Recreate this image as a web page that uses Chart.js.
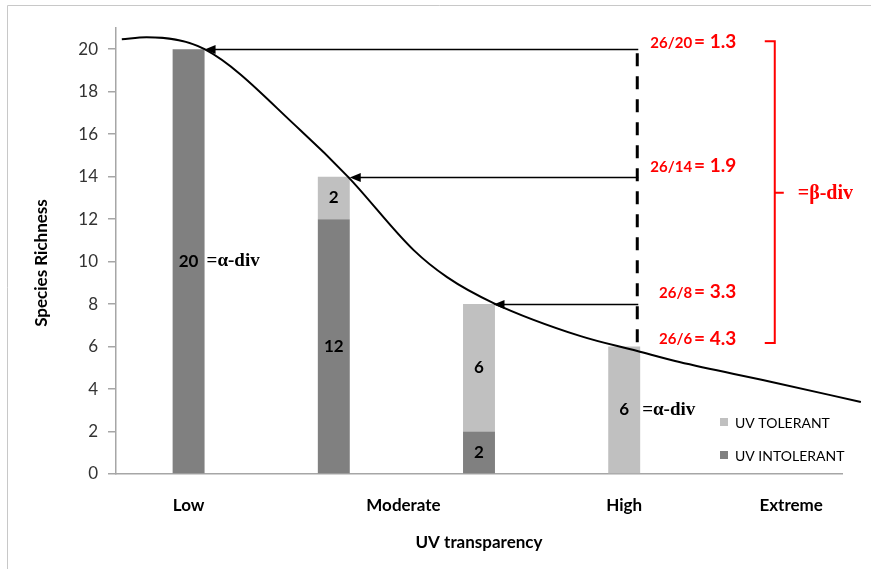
<!DOCTYPE html>
<html>
<head>
<meta charset="utf-8">
<script src="https://cdn.jsdelivr.net/npm/chart.js@4.4.1/dist/chart.umd.min.js"></script>
<style>
  body { margin: 0; background: #fff; }
</style>
</head>
<body>
<canvas id="canvas" width="871" height="569"></canvas>
<script>
/* data */
// 5 slots on the x axis, slot 4 stays empty
const slots = [0, 1, 2, 3, 4];
const uvIntolerant = [20, 12, 2, 0, 0];
const uvTolerant = [0, 2, 6, 6, 0];
const alphaNote = ['=α-div', '', '', '=α-div', ''];

const xTickLabels = ['Low', 'Moderate', 'High', 'Extreme'];
const xTickPos = [0, 1.48, 3, 4.15];

// curve (x in slot units)
const curveX = [-0.46, -0.29, 0.11, 0.77, 1.10, 1.55, 1.78, 2.10, 2.70, 3.09, 3.38, 4.00, 4.63];
const curveY = [20.47, 20.56, 20.0, 16.19, 13.98, 10.54, 9.27, 8.05, 6.49, 5.79, 5.27, 4.36, 3.39];

// beta diversity
const gammaTotal = 26;
const alphaValues = [20, 14, 8, 6];
const betaValues = ['1.3', '1.9', '3.3', '4.3'];
const arrowTipX = [0.11, 1.11, 2.10];
const dashX = 3.09;

const SANS = 'Lato, "Noto Sans", sans-serif';
const SERIF = '"Liberation Serif", "DejaVu Serif", serif';
const AXIS_GREY = '#a6a6a6';

/* drawing of the annotations */
const extras = {
    id: 'extras',
    beforeDraw(chart) {
        const ctx = chart.ctx;
        ctx.save();
        ctx.strokeStyle = '#c8c8c8';
        ctx.lineWidth = 1;
        ctx.beginPath();
        ctx.moveTo(7.5, 569);
        ctx.lineTo(7.5, 5.5);
        ctx.lineTo(871, 5.5);
        ctx.stroke();
        ctx.restore();
    },
    afterDatasetsDraw(chart) {
        const ctx = chart.ctx;
        const xs = chart.scales.x;
        const ys = chart.scales.y;
        ctx.save();

        // values inside the bars
        ctx.textBaseline = 'middle';
        [0, 1].forEach(function(di){
            const meta = chart.getDatasetMeta(di);
            const vals = di === 0 ? uvIntolerant : uvTolerant;
            meta.data.forEach(function(bar, i){
                if (!vals[i]) return;
                const cy = (bar.y + bar.base) / 2;
                ctx.fillStyle = '#000';
                ctx.font = 'bold 17px ' + SANS;
                ctx.textAlign = 'center';
                ctx.fillText(String(vals[i]), bar.x, cy);
                if (alphaNote[i] && (uvIntolerant[i] === 0 || uvTolerant[i] === 0)) {
                    ctx.font = 'bold 19px ' + SERIF;
                    ctx.textAlign = 'left';
                    ctx.fillText(alphaNote[i], bar.x + bar.width / 2 + 2, cy);
                }
            });
        });

        // arrows from dashed line to the curve
        const xd = xs.getPixelForValue(dashX);
        ctx.strokeStyle = '#000';
        ctx.fillStyle = '#000';
        ctx.lineWidth = 1.5;
        for (let i = 0; i < arrowTipX.length; i++) {
            const y = Math.round(ys.getPixelForValue(alphaValues[i])) + 0.5;
            const xt = xs.getPixelForValue(arrowTipX[i]);
            ctx.beginPath();
            ctx.moveTo(xd + 1, y);
            ctx.lineTo(xt + 8, y);
            ctx.stroke();
            ctx.beginPath();
            ctx.moveTo(xt, y);
            ctx.lineTo(xt + 11, y - 4.5);
            ctx.lineTo(xt + 11, y + 4.5);
            ctx.closePath();
            ctx.fill();
        }

        // dashed line
        ctx.lineWidth = 3;
        ctx.setLineDash([13, 10]);
        ctx.beginPath();
        ctx.moveTo(xd, ys.getPixelForValue(alphaValues[0]) + 4);
        ctx.lineTo(xd, ys.getPixelForValue(6) - 1);
        ctx.stroke();
        ctx.setLineDash([]);

        // red ratios
        const nudge = [-7, -11, -12, -8];
        const rx = xd + 99;
        ctx.fillStyle = '#ff0000';
        ctx.textAlign = 'right';
        for (let i = 0; i < alphaValues.length; i++) {
            const y = ys.getPixelForValue(alphaValues[i]) + nudge[i];
            ctx.font = 'bold 19px ' + SANS;
            const part2 = '= ' + betaValues[i];
            ctx.fillText(part2, rx, y);
            const w = ctx.measureText(part2).width;
            ctx.font = 'bold 15px ' + SANS;
            ctx.fillText(gammaTotal + '/' + alphaValues[i], rx - w - 2, y + 1);
        }

        // red brace
        const bx = xd + 137.5;
        const bTop = ys.getPixelForValue(20) - 8;
        const bBot = ys.getPixelForValue(6) - 3.5;
        const bMid = (bTop + bBot) / 2 + 0.5;
        ctx.strokeStyle = '#ff0000';
        ctx.lineWidth = 2;
        ctx.beginPath();
        ctx.moveTo(bx - 10, bTop);
        ctx.lineTo(bx, bTop);
        ctx.lineTo(bx, bBot);
        ctx.lineTo(bx - 10, bBot);
        ctx.moveTo(bx, bMid);
        ctx.lineTo(bx + 9, bMid);
        ctx.stroke();
        ctx.font = 'bold 20px ' + SERIF;
        ctx.textAlign = 'left';
        ctx.fillText('=β-div', bx + 23, bMid + 1);

        // legend
        const lx = 720;
        const legendItems = [[chart.data.datasets[1].label, chart.data.datasets[1].backgroundColor, 422],
                             [chart.data.datasets[0].label, chart.data.datasets[0].backgroundColor, 455]];
        ctx.font = '14px ' + SANS;
        legendItems.forEach(function(it){
            ctx.fillStyle = it[1];
            ctx.fillRect(lx, it[2] - 4, 8, 8);
            ctx.fillStyle = '#000';
            ctx.fillText(it[0], lx + 15, it[2] + 1);
        });

        // y axis title
        ctx.translate(42, 263);
        ctx.rotate(-Math.PI / 2);
        ctx.textAlign = 'center';
        ctx.font = 'bold 17px ' + SANS;
        ctx.fillStyle = '#000';
        ctx.fillText('Species Richness', 0, 0);
        ctx.restore();
    }
};

function points(xs, ys) {
    return xs.map(function(x, i){ return {x: x, y: ys[i]}; });
}

new Chart(document.getElementById('canvas'), {
    type: 'bar',
    data: {
        datasets: [{
            label: 'UV INTOLERANT',
            data: points(slots, uvIntolerant),
            backgroundColor: '#808080',
            grouped: false,
            order: 1
        }, {
            label: 'UV TOLERANT',
            data: points(slots, uvTolerant),
            backgroundColor: '#c0c0c0',
            grouped: false,
            order: 1
        }, {
            type: 'line',
            label: 'curve',
            data: points(curveX, curveY),
            borderColor: '#000',
            borderWidth: 2,
            pointRadius: 0,
            cubicInterpolationMode: 'monotone',
            clip: false,
            order: 0
        }]
    },
    plugins: [extras],
    options: {
        responsive: false,
        animation: false,
        layout: { padding: { top: 28, right: 29, left: 0, bottom: 0 } },
        datasets: { bar: { categoryPercentage: 1, barPercentage: 0.22 } },
        plugins: {
            legend: { display: false },
            tooltip: { enabled: false }
        },
        scales: {
            x: {
                type: 'linear',
                offset: false,
                stacked: true,
                min: -0.5,
                max: 4.5,
                afterBuildTicks: function(axis){
                    axis.ticks = xTickPos.map(function(v){ return {value: v}; });
                },
                afterFit: function(axis){ axis.height = 95; },
                grid: { display: false, drawTicks: false, offset: false },
                border: { display: true, color: AXIS_GREY, width: 1.5 },
                ticks: {
                    autoSkip: false,
                    maxRotation: 0,
                    padding: 21,
                    color: '#000',
                    font: { family: SANS, size: 17, weight: 'bold' },
                    callback: function(v, i){ return xTickLabels[i]; }
                },
                title: {
                    display: true,
                    text: 'UV transparency',
                    color: '#000',
                    font: { family: SANS, size: 17, weight: 'bold' },
                    padding: { top: 0, bottom: 16 }
                }
            },
            y: {
                stacked: true,
                min: 0,
                max: 21,
                afterFit: function(axis){ axis.width = 116; },
                grid: { drawOnChartArea: false, drawTicks: true, tickLength: 8, color: AXIS_GREY, lineWidth: 1.5 },
                border: { color: AXIS_GREY, width: 1.5 },
                ticks: {
                    stepSize: 2,
                    includeBounds: false,
                    padding: 10,
                    color: '#333',
                    font: { family: SANS, size: 17 }
                }
            }
        }
    }
});
</script>
</body>
</html>
